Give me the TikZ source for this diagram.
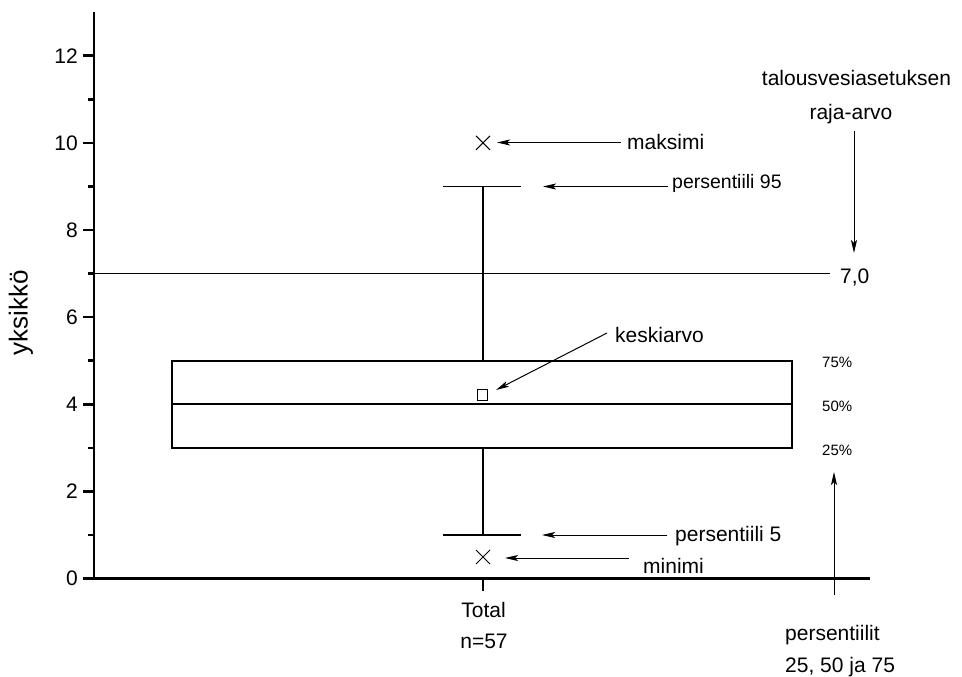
\documentclass[tikz,border=0pt]{standalone}
\usepackage{fontspec}
\setmainfont{Liberation Sans}
\usetikzlibrary{arrows.meta}
\tikzset{
  axisline/.style={line width=2.6pt},
  boxline/.style={line width=1.7pt},
  limitline/.style={line width=1.3pt},
  arr/.style={line width=1pt,-{Stealth[length=13pt,width=6pt,inset=3pt]}},
  marker/.style={line width=1pt},
  lab/.style={inner sep=0pt,font=\fontsize{21}{25}\selectfont},
  smalllab/.style={inner sep=0pt,font=\fontsize{15}{18}\selectfont},
  midlab/.style={inner sep=0pt,font=\fontsize{19.5}{23}\selectfont},
}
\begin{document}
\begin{tikzpicture}[x=1pt,y=-1pt]
\useasboundingbox (0,0) rectangle (962,677);
% axes
\draw[axisline] (94,12.2) -- (94,578.5) -- (870,578.5);
\foreach \v/\yy in {0/578.5,2/491.4,4/404.3,6/317.1,8/230,10/142.9,12/55.8}{
  \draw[axisline] (83,\yy) -- (94,\yy);
  \node[lab,anchor=east] (t\v) at (78,\yy) {\v};
}
\foreach \yy in {535,447.8,360.7,273.6,186.5,99.3}{
  \draw[axisline] (88,\yy) -- (94,\yy);
}
\draw[axisline] (483,578.5) -- (483,590.5);
\node[lab,anchor=base] (total) at (483.5,617) {Total};
\node[lab,anchor=base] (nn) at (484,648) {n=57};
\node[inner sep=0pt,font=\fontsize{26}{30}\selectfont,rotate=90] (ylab) at (21,313) {yksikkö};
% limit line
\draw[limitline] (94,273.6) -- (830,273.6);
% box
\draw[boxline] (172,360.7) rectangle (792,447.8);
\draw[boxline] (172,404.3) -- (792,404.3);
\draw[boxline] (483,360.7) -- (483,186.5);
\draw[boxline] (443,186.5) -- (521,186.5);
\draw[boxline] (483,447.8) -- (483,535);
\draw[boxline] (443,535) -- (521,535);
% markers
\draw[marker] (476,135.9) -- (490,149.9) (476,149.9) -- (490,135.9);
\draw[marker] (476,550) -- (490,564) (476,564) -- (490,550);
\draw[marker] (477,389.5) rectangle (487.5,400);
% labels and arrows
\node[lab,anchor=base west] (maks) at (627,149) {maksimi};
\coordinate (maksS) at (621,142.5);
\coordinate (maksT) at (497,142.5);
\draw[arr] (maksS) -- (maksT);

\node[midlab,anchor=base west] (p95) at (672,188) {persentiili 95};
\coordinate (p95S) at (668,186.5);
\coordinate (p95T) at (543,186.5);
\draw[arr] (p95S) -- (p95T);

\node[lab,anchor=base west] (kesk) at (615,342) {keskiarvo};
\coordinate (keskS) at (607,333);
\coordinate (keskT) at (496,390);
\draw[arr] (keskS) -- (keskT);

\node[lab,anchor=base west] (p5) at (675,541.5) {persentiili 5};
\coordinate (p5S) at (667,535);
\coordinate (p5T) at (542,535);
\draw[arr] (p5S) -- (p5T);

\node[lab,anchor=base west] (mini) at (643,573) {minimi};
\coordinate (miniS) at (629,558);
\coordinate (miniT) at (505,558);
\draw[arr] (miniS) -- (miniT);

\node[lab,anchor=base] (talous) at (856.5,85) {talousvesiasetuksen};
\node[lab,anchor=base] (raja) at (851,120) {raja-arvo};
\coordinate (rajaS) at (854,131);
\coordinate (rajaT) at (854,253);
\draw[arr] (rajaS) -- (rajaT);
\node[lab,anchor=base west] (seven) at (840,283) {7,0};

\node[smalllab,anchor=base west] (q75) at (822,367) {75\%};
\node[smalllab,anchor=base west] (q50) at (822,411.7) {50\%};
\node[smalllab,anchor=base west] (q25) at (822,455) {25\%};
\coordinate (persS) at (834,595);
\coordinate (persT) at (834,472);
\draw[arr] (persS) -- (persT);
\node[lab,anchor=base west] (pers) at (785,640) {persentiilit};
\node[lab,anchor=base west] (pers2) at (785,672.5) {25, 50 ja 75};
\end{tikzpicture}
\end{document}
